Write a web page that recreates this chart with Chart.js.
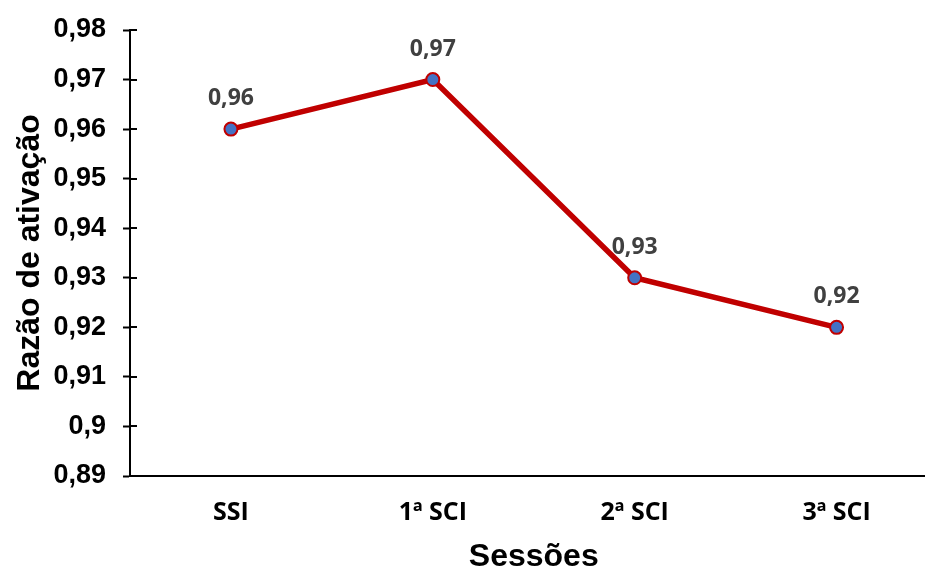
<!DOCTYPE html>
<html lang="pt">
<head>
<meta charset="UTF-8">
<title>Razão de ativação</title>
<style>
  html, body { margin: 0; padding: 0; background: #fff; overflow: hidden; }
  #wrap { width: 946px; height: 570px; }
</style>
</head>
<body>
<div id="wrap"><canvas id="myChart"></canvas></div>
<script src="https://cdn.jsdelivr.net/npm/chart.js"></script>
<script>
  // data
  const sessoes = ['SSI', '1ª SCI', '2ª SCI', '3ª SCI'];
  const razao = [0.96, 0.97, 0.93, 0.92];
  const yMin = 0.89, yMax = 0.98, yStep = 0.01;

  const fmt = v => Number(v.toFixed(2)).toString().replace('.', ',');

  // ticks that cross the y axis (inner half) + value labels above points
  const extras = {
    id: 'extras',
    afterDatasetsDraw(chart) {
      const ctx = chart.ctx;
      const y = chart.scales.y;
      ctx.save();
      ctx.strokeStyle = '#000';
      ctx.lineWidth = 2;
      y.ticks.forEach(t => {
        const py = Math.round(y.getPixelForValue(t.value));
        ctx.beginPath();
        ctx.moveTo(y.right, py);
        ctx.lineTo(y.right + 7, py);
        ctx.stroke();
      });
      const meta = chart.getDatasetMeta(0);
      ctx.fillStyle = '#404040';
      ctx.font = 'bold 23px "Open Sans"';
      ctx.textAlign = 'center';
      ctx.textBaseline = 'alphabetic';
      meta.data.forEach((pt, i) => {
        ctx.fillText(fmt(razao[i]), pt.x, pt.y - 24);
      });
      ctx.restore();
    }
  };

  new Chart(document.getElementById('myChart'), {
    type: 'line',
    data: {
      labels: sessoes,
      datasets: [{
        data: razao,
        borderColor: '#C00000',
        borderWidth: 5.5,
        pointBackgroundColor: '#4472C4',
        pointBorderColor: '#C00000',
        pointBorderWidth: 2,
        pointRadius: 6.5,
        tension: 0
      }]
    },
    options: {
      responsive: true,
      maintainAspectRatio: false,
      animation: false,
      layout: { padding: { top: 30, left: 0, right: 0, bottom: 0 } },
      plugins: { legend: { display: false }, tooltip: { enabled: false } },
      scales: {
        x: {
          offset: true,
          afterFit: s => { s.height = 94; s.paddingLeft = 0; s.paddingRight = 0; },
          grid: { display: true, drawOnChartArea: false, drawTicks: false },
          border: { color: '#000', width: 2 },
          ticks: { color: '#000', font: { family: '"Open Sans"', size: 25, weight: 'bold' }, padding: 22 },
          title: { display: true, text: 'Sessões', color: '#000', font: { family: '"Liberation Sans"', size: 32, weight: 'bold', lineHeight: 0.8 }, padding: { top: 0, bottom: 0 } }
        },
        y: {
          min: yMin,
          max: yMax,
          afterFit: s => { s.width = 130; s.paddingTop = 0; s.paddingBottom = 0; },
          ticks: { stepSize: yStep, color: '#000', callback: v => fmt(v), font: { family: '"Liberation Sans"', size: 27, weight: 'bold' }, padding: 17 },
          grid: { drawOnChartArea: false, tickLength: 7, tickColor: '#000', tickWidth: 2 },
          border: { color: '#000', width: 2 },
          title: { display: true, text: 'Razão de ativação', color: '#000', font: { family: '"Liberation Sans"', size: 32, weight: 'bold', lineHeight: 1 }, padding: { top: 14, bottom: 0 } }
        }
      }
    },
    plugins: [extras]
  });
</script>
</body>
</html>
